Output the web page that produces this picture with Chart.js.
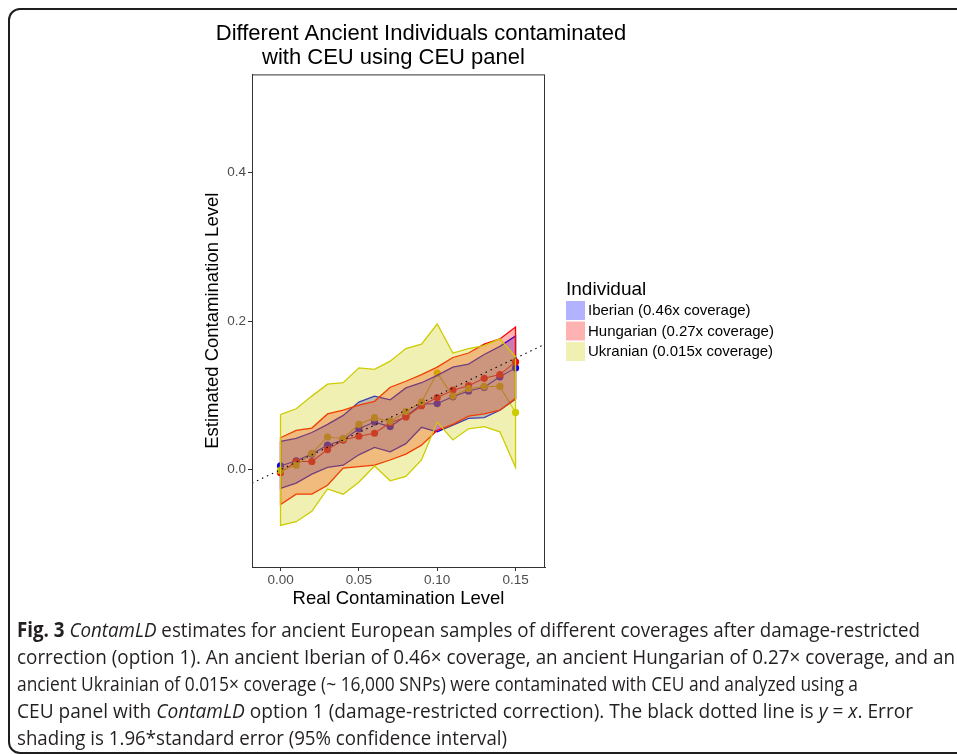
<!DOCTYPE html>
<html>
<head>
<meta charset="utf-8">
<title>ContamLD estimates</title>
<script src="https://cdn.jsdelivr.net/npm/chart.js@4.4.0/dist/chart.umd.min.js"></script>
<style>
  body { margin: 0; background: #fff; width: 957px; height: 754px; overflow: hidden; position: relative; }
  #frame { position: absolute; left: 8px; top: 8px; width: 1000px; height: 746px; box-sizing: border-box; border: 2px solid #1e1e1e; border-radius: 12px; }
  #chart { position: absolute; left: 0; top: 0; }
  #caption { position: absolute; left: 17px; top: 616px; font-family: "Open Sans", sans-serif; font-size: 20.5px; color: #231f20; }
  #caption div { width: max-content; height: 27px; line-height: 27px; white-space: nowrap; transform-origin: 0 50%; }
</style>
</head>
<body>
<div id="frame"></div>
<canvas id="chart" width="842" height="620"></canvas>
<div id="caption">
  <div><b>Fig. 3</b> <i>ContamLD</i> estimates for ancient European samples of different coverages after damage-restricted</div>
  <div>correction (option 1). An ancient Iberian of 0.46× coverage, an ancient Hungarian of 0.27× coverage, and an</div>
  <div>ancient Ukrainian of 0.015× coverage (~ 16,000 SNPs) were contaminated with CEU and analyzed using a</div>
  <div>CEU panel with <i>ContamLD</i> option 1 (damage-restricted correction). The black dotted line is <i>y</i> = <i>x</i>. Error</div>
  <div>shading is 1.96*standard error (95% confidence interval)</div>
</div>
<script>
// Real contamination levels (x)
const realLevels = [0, 0.01, 0.02, 0.03, 0.04, 0.05, 0.06, 0.07, 0.08, 0.09, 0.10, 0.11, 0.12, 0.13, 0.14, 0.15];

// Estimated contamination and error shading
const iberianEst   = [0.005, 0.012, 0.021, 0.033, 0.040, 0.055, 0.064, 0.058, 0.072, 0.088, 0.089, 0.098, 0.106, 0.111, 0.125, 0.137];
const iberianUpper = [0.038, 0.042, 0.050, 0.061, 0.073, 0.091, 0.099, 0.094, 0.110, 0.117, 0.127, 0.138, 0.142, 0.155, 0.166, 0.180];
const iberianLower = [-0.025, -0.018, -0.006, 0.003, 0.006, 0.020, 0.030, 0.024, 0.035, 0.057, 0.051, 0.060, 0.069, 0.070, 0.080, 0.095];

const hungarianEst   = [-0.004, 0.011, 0.011, 0.027, 0.040, 0.045, 0.049, 0.063, 0.071, 0.086, 0.097, 0.107, 0.113, 0.123, 0.128, 0.145];
const hungarianUpper = [0.043, 0.053, 0.056, 0.075, 0.080, 0.087, 0.092, 0.111, 0.119, 0.128, 0.138, 0.151, 0.157, 0.169, 0.176, 0.192];
const hungarianLower = [-0.047, -0.033, -0.033, -0.021, 0.002, 0.004, 0.006, 0.013, 0.021, 0.033, 0.053, 0.061, 0.072, 0.075, 0.080, 0.096];

const ukranianEst   = [-0.001, 0.006, 0.022, 0.044, 0.042, 0.061, 0.070, 0.065, 0.078, 0.091, 0.130, 0.099, 0.109, 0.112, 0.112, 0.077];
const ukranianUpper = [0.074, 0.082, 0.099, 0.115, 0.117, 0.137, 0.135, 0.146, 0.163, 0.169, 0.196, 0.157, 0.163, 0.167, 0.176, 0.152];
const ukranianLower = [-0.075, -0.070, -0.056, -0.026, -0.033, -0.017, 0.005, -0.015, -0.009, 0.013, 0.064, 0.040, 0.055, 0.058, 0.051, 0.003];

const seriesNames = ['Iberian (0.46x coverage)', 'Hungarian (0.27x coverage)', 'Ukranian (0.015x coverage)'];
const seriesColors = ['#0000ff', '#ff0000', '#cccc00'];
const seriesFills = ['rgba(0,0,255,0.3)', 'rgba(255,0,0,0.3)', 'rgba(204,204,0,0.3)'];

// axes
const xRange = [-0.0182, 0.1688];
const yRange = [-0.131, 0.532];
const xTicks = [0, 0.05, 0.10, 0.15];
const yTicks = [0, 0.2, 0.4];

function toPoints(ys) {
    return realLevels.map((x, i) => ({ x: x, y: ys[i] }));
}

// closed outline: upper edge left to right, lower edge back, then close
function ribbon(upper, lower) {
    const top = toPoints(upper);
    const bottom = toPoints(lower).reverse();
    return top.concat(bottom, [top[0]]);
}

const estimates = [iberianEst, hungarianEst, ukranianEst];
const uppers = [iberianUpper, hungarianUpper, ukranianUpper];
const lowers = [iberianLower, hungarianLower, ukranianLower];

const datasets = [];

// lines and points go underneath the shading, like in the original
estimates.forEach((est, i) => {
    datasets.push({
        label: seriesNames[i],
        data: toPoints(est),
        borderColor: seriesColors[i],
        backgroundColor: seriesColors[i],
        borderWidth: 1.1,
        pointRadius: 3.6,
        pointBorderWidth: 0,
        fill: false,
        order: 20 - i
    });
});

estimates.forEach((est, i) => {
    datasets.push({
        label: seriesNames[i] + ' shading',
        data: ribbon(uppers[i], lowers[i]),
        borderColor: seriesColors[i],
        backgroundColor: seriesFills[i],
        borderWidth: 1.3,
        pointRadius: 0,
        fill: 'shape',
        order: 10 - i
    });
});

// y = x reference
datasets.push({
    label: 'y = x',
    data: xRange.map(v => ({ x: v, y: v })),
    borderColor: '#000',
    borderWidth: 1.1,
    borderDash: [1.5, 4],
    pointRadius: 0,
    fill: false,
    order: 1
});

const boxPlugin = {
    id: 'panelBox',
    afterDatasetsDraw(chart) {
        const a = chart.chartArea;
        const ctx = chart.ctx;
        ctx.save();
        ctx.strokeStyle = '#333';
        ctx.lineWidth = 1;
        ctx.strokeRect(a.left + 0.5, a.top + 0.5, a.right - a.left - 1, a.bottom - a.top);
        ctx.restore();
    }
};

const legendPlugin = {
    id: 'sideLegend',
    afterDraw(chart) {
        const ctx = chart.ctx;
        const x0 = chart.chartArea.right + 21;
        ctx.save();
        ctx.textBaseline = 'middle';
        ctx.textAlign = 'left';
        ctx.fillStyle = '#000';
        ctx.font = '19px "Liberation Sans", Arial, sans-serif';
        ctx.fillText('Individual', x0, 290);
        ctx.font = '15px "Liberation Sans", Arial, sans-serif';
        seriesNames.forEach((name, i) => {
            const y = 301 + i * 20.5;
            ctx.fillStyle = seriesFills[i];
            ctx.fillRect(x0, y, 19, 19);
            ctx.fillStyle = '#000';
            ctx.fillText(name, x0 + 22, y + 10);
        });
        ctx.restore();
    }
};

const ctx = document.getElementById('chart').getContext('2d');
const chart = new Chart(ctx, {
    type: 'line',
    data: { datasets: datasets },
    options: {
        responsive: false,
        animation: false,
        devicePixelRatio: 1,
        layout: { padding: 0 },
        plugins: {
            legend: { display: false },
            tooltip: { enabled: false },
            title: {
                display: true,
                // second line carries trailing spaces, as in the original figure
                text: ['Different Ancient Individuals contaminated', 'with CEU using CEU panel         '],
                color: '#000',
                font: { family: '"Liberation Sans", Arial, sans-serif', size: 22, weight: 'normal', lineHeight: 1.1 },
                padding: { top: 22, bottom: 4 }
            }
        },
        scales: {
            x: {
                type: 'linear',
                min: xRange[0],
                max: xRange[1],
                afterBuildTicks: s => { s.ticks = xTicks.map(v => ({ value: v })); },
                afterFit: s => { s.height = 53; },
                ticks: {
                    color: '#4d4d4d',
                    padding: 1,
                    maxRotation: 0,
                    font: { family: '"Liberation Sans", Arial, sans-serif', size: 13.5 },
                    callback: v => v.toFixed(2)
                },
                grid: { drawOnChartArea: false, drawTicks: true, tickLength: 4, color: '#333' },
                border: { display: true, color: '#333', width: 1 },
                title: {
                    display: true,
                    text: 'Real Contamination Level',
                    color: '#000',
                    font: { family: '"Liberation Sans", Arial, sans-serif', size: 18.5, lineHeight: 1.2 },
                    padding: { top: 0, bottom: 10 }
                }
            },
            y: {
                type: 'linear',
                min: yRange[0],
                max: yRange[1],
                afterBuildTicks: s => { s.ticks = yTicks.map(v => ({ value: v })); },
                afterFit: s => { s.width = 252; },
                ticks: {
                    color: '#4d4d4d',
                    padding: 2,
                    font: { family: '"Liberation Sans", Arial, sans-serif', size: 13.5 },
                    callback: v => v.toFixed(1)
                },
                grid: { drawOnChartArea: false, drawTicks: true, tickLength: 4, color: '#333' },
                border: { display: true, color: '#333', width: 1 },
                title: {
                    display: true,
                    text: 'Estimated Contamination Level',
                    color: '#000',
                    font: { family: '"Liberation Sans", Arial, sans-serif', size: 18.5, lineHeight: 1.2 },
                    padding: { top: 202, bottom: 0 }
                }
            },
            // empty axis that keeps room for the legend on the right
            legendSpace: {
                type: 'linear',
                position: 'right',
                display: true,
                afterFit: s => { s.width = 297; },
                ticks: { display: false },
                grid: { display: false, drawTicks: false },
                border: { display: false }
            }
        }
    },
    plugins: [boxPlugin, legendPlugin]
});

// squeeze caption lines to the width they have in the figure
const lineEnds = [920, 955, 858, 913, 507];
document.querySelectorAll('#caption div').forEach((line, i) => {
    const w = line.getBoundingClientRect().width;
    line.style.transform = 'scaleX(' + ((lineEnds[i] - 17) / w) + ')';
});
</script>
</body>
</html>
